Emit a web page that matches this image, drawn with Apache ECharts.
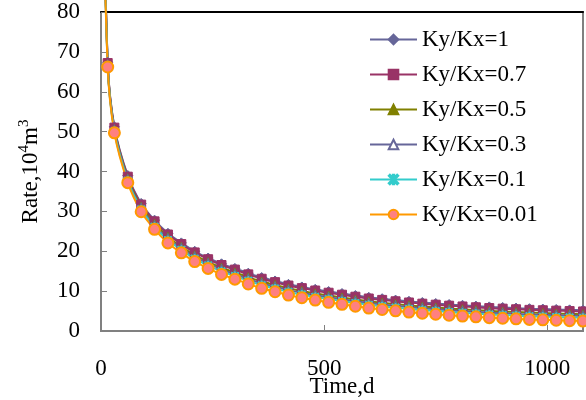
<!DOCTYPE html>
<html>
<head>
<meta charset="utf-8">
<title>Rate vs Time</title>
<script src="https://cdn.jsdelivr.net/npm/echarts@6/dist/echarts.min.js"></script>
<style>
  html, body { margin: 0; padding: 0; background: #fff; }
  #chart { width: 586px; height: 400px; }
</style>
</head>
<body>
<div id="chart"></div>
<script>
// time, days
var days = [1, 15, 30, 60, 90, 120, 150, 180, 210, 240, 270, 300, 330, 360, 390, 420, 450, 480, 510,
  540, 570, 600, 630, 660, 690, 720, 750, 780, 810, 840, 870, 900, 930, 960, 990, 1020, 1050, 1080];

// rate, 10^4 m3
var rate1 = [139, 67.4, 51.2, 39.0, 32.0, 27.8, 24.5, 22.1, 20.0, 18.3, 16.85, 15.7, 14.5, 13.4, 12.55, 11.7, 11.05, 10.45, 9.9,
  9.4, 8.9, 8.45, 8.1, 7.75, 7.45, 7.15, 6.9, 6.65, 6.45, 6.25, 6.05, 5.9, 5.75, 5.6, 5.5, 5.4, 5.3, 5.2];
var rate07 = [138, 67.2, 51.0, 38.7, 31.7, 27.5, 24.2, 21.8, 19.7, 18.0, 16.55, 15.4, 14.2, 13.1, 12.25, 11.4, 10.75, 10.15, 9.6,
  9.1, 8.6, 8.15, 7.8, 7.45, 7.15, 6.85, 6.6, 6.35, 6.15, 5.95, 5.75, 5.6, 5.45, 5.3, 5.2, 5.1, 5.0, 4.9];
var rate05 = [136, 66.9, 50.6, 38.3, 31.2, 26.9, 23.6, 21.15, 19.0, 17.3, 15.85, 14.7, 13.5, 12.4, 11.55, 10.7, 10.05, 9.45, 8.9,
  8.4, 7.9, 7.45, 7.1, 6.75, 6.45, 6.15, 5.9, 5.65, 5.45, 5.25, 5.05, 4.9, 4.75, 4.6, 4.5, 4.4, 4.3, 4.2];
var rate03 = [134, 66.7, 50.4, 38.0, 30.85, 26.5, 23.2, 20.75, 18.6, 16.95, 15.45, 14.25, 13.05, 11.95, 11.1, 10.25, 9.6, 9.0, 8.45,
  7.95, 7.45, 7.0, 6.65, 6.3, 6.0, 5.7, 5.45, 5.2, 5.0, 4.8, 4.6, 4.45, 4.3, 4.15, 4.05, 3.95, 3.85, 3.75];
var rate01 = [132, 66.5, 50.1, 37.7, 30.5, 26.15, 22.8, 20.35, 18.15, 16.45, 14.95, 13.8, 12.6, 11.5, 10.65, 9.8, 9.15, 8.55, 8.0,
  7.5, 7.0, 6.55, 6.2, 5.85, 5.55, 5.25, 5.0, 4.75, 4.55, 4.35, 4.15, 4.0, 3.85, 3.7, 3.6, 3.5, 3.4, 3.3];
var rate001 = [130, 66.2, 49.7, 37.2, 29.9, 25.5, 22.1, 19.6, 17.4, 15.7, 14.2, 13.0, 11.8, 10.7, 9.85, 9.0, 8.35, 7.75, 7.2,
  6.7, 6.2, 5.75, 5.4, 5.05, 4.75, 4.45, 4.2, 3.95, 3.75, 3.55, 3.35, 3.2, 3.05, 2.9, 2.8, 2.7, 2.6, 2.5];

var names = ['Ky/Kx=1', 'Ky/Kx=0.7', 'Ky/Kx=0.5', 'Ky/Kx=0.3', 'Ky/Kx=0.1', 'Ky/Kx=0.01'];
var xTicks = [0, 500, 1000];
var yTicks = [0, 10, 20, 30, 40, 50, 60, 70, 80];

var FONT = 'Liberation Serif';
var asterisk = 'path://M4.3 0L5.7 0L5.7 10L4.3 10Z M0 1.2L1.2 0L10 8.8L8.8 10Z M8.8 0L10 1.2L1.2 10L0 8.8Z';

function pairs(vals) {
  var out = [];
  for (var i = 0; i < days.length; i++) out.push([days[i], vals[i]]);
  return out;
}

function makeSeries(name, vals, color, symbol, size, itemStyle) {
  return {
    name: name,
    type: 'line',
    data: pairs(vals),
    clip: false,
    smooth: 0.3,
    symbol: symbol,
    symbolSize: size,
    showAllSymbol: true,
    lineStyle: { color: color, width: 2 },
    itemStyle: itemStyle || { color: color, borderColor: color, borderWidth: 1 },
    emphasis: { disabled: true }
  };
}

var myChart = echarts.init(document.getElementById('chart'));
var option = {
  backgroundColor: '#fff',
  animation: false,
  textStyle: { fontFamily: FONT },
  grid: {
    left: 101, right: 3, top: 12, bottom: 69,
    outerBoundsMode: 'none', containLabel: false,
    show: true, borderColor: '#808080', borderWidth: 2
  },
  legend: {
    orient: 'vertical',
    left: 364,
    top: 23,
    itemWidth: 47,
    itemHeight: 12,
    itemGap: 12,
    data: names,
    textStyle: { fontFamily: FONT, fontSize: 23, color: '#000' }
  },
  xAxis: [{
    type: 'value',
    min: 0,
    max: 1080,
    interval: 500,
    name: 'Time,d',
    nameLocation: 'middle',
    nameGap: 42,
    nameMoveOverlap: false,
    nameTextStyle: { fontFamily: FONT, fontSize: 23, color: '#000', backgroundColor: '#fff', padding: [2, 4, 4, 4] },
    axisLine: { show: true, lineStyle: { color: '#808080', width: 2 } },
    axisTick: { show: true, inside: true, length: 6, lineStyle: { color: '#808080' } },
    axisLabel: {
      margin: 26, fontFamily: FONT, fontSize: 23, color: '#000',
      formatter: function (v) { return xTicks.indexOf(v) >= 0 ? String(v) : ''; }
    },
    splitLine: { show: false }
  }, {
    type: 'value',
    position: 'top',
    min: 0,
    max: 1080,
    axisLine: { show: true, lineStyle: { color: '#000', width: 2 } },
    axisTick: { show: false },
    axisLabel: { show: false },
    splitLine: { show: false }
  }],
  yAxis: {
    type: 'value',
    min: 0,
    max: 80,
    interval: 10,
    name: 'Rate,10{s|4}m{s|3}',
    nameLocation: 'middle',
    nameRotate: 90,
    nameGap: 57,
    nameMoveOverlap: false,
    nameTextStyle: {
      fontFamily: FONT, fontSize: 23, color: '#000',
      rich: { s: { fontFamily: FONT, fontSize: 15, color: '#000', verticalAlign: 'bottom', padding: [0, 0, 12, 0] } }
    },
    axisLine: { show: true, lineStyle: { color: '#808080', width: 2 } },
    axisTick: { show: true, inside: true, length: 6, lineStyle: { color: '#808080' } },
    axisLabel: {
      margin: 21, fontFamily: FONT, fontSize: 23, color: '#000',
      formatter: function (v) { return yTicks.indexOf(v) >= 0 ? String(v) : ''; }
    },
    splitLine: { show: false }
  },
  series: [
    makeSeries(names[0], rate1, '#666699', 'diamond', 10),
    makeSeries(names[1], rate07, '#993366', 'rect', 9),
    makeSeries(names[2], rate05, '#808000', 'triangle', 9),
    makeSeries(names[3], rate03, '#666699', 'triangle', 9, { color: '#fff', borderColor: '#666699', borderWidth: 1.5 }),
    makeSeries(names[4], rate01, '#33CCCC', asterisk, 8),
    makeSeries(names[5], rate001, '#FF9900', 'circle', 11, { color: '#FF8080', borderColor: '#FF9900', borderWidth: 2 })
  ]
};
myChart.setOption(option, true);
</script>
</body>
</html>
